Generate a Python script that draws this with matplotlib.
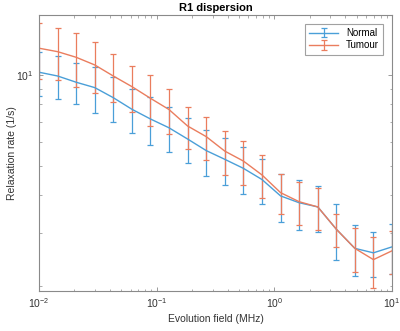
import numpy as np
import matplotlib
matplotlib.use('Agg')
import matplotlib.pyplot as plt
from matplotlib.ticker import LogLocator, NullFormatter

plt.rcParams['font.family'] = ['Liberation Sans', 'DejaVu Sans']

# evolution field (MHz)
field = [0.01, 0.0144, 0.0207, 0.0298, 0.0428, 0.0616, 0.0886, 0.127, 0.183, 0.264,
         0.379, 0.546, 0.785, 1.13, 1.62, 2.34, 3.36, 4.83, 6.95, 10.0]

# R1 (1/s) and errors
normal = [10.21, 9.92, 9.46, 9.08, 8.41, 7.70, 7.15, 6.69, 6.14, 5.62,
          5.26, 4.91, 4.51, 3.98, 3.78, 3.66, 3.09, 2.67, 2.58, 2.70]
normal_err = [1.71, 1.61, 1.47, 1.58, 1.44, 1.28, 1.29, 1.13, 1.04, 0.98,
              0.92, 0.86, 0.78, 0.71, 0.70, 0.63, 0.65, 0.51, 0.44, 0.51]
tumour = [12.26, 11.94, 11.44, 10.79, 9.92, 9.15, 8.37, 7.69, 6.78, 6.25,
          5.60, 5.19, 4.67, 4.08, 3.81, 3.66, 3.09, 2.67, 2.45, 2.62]
tumour_err = [2.55, 2.32, 2.33, 2.08, 1.81, 1.58, 1.61, 1.32, 1.07, 1.03,
              0.95, 0.86, 0.75, 0.61, 0.61, 0.58, 0.39, 0.44, 0.47, 0.43]

blue = '#4a9fd8'
orange = '#ea7d5e'
axcol = '#8a8a8a'

fig = plt.figure(figsize=(4.0, 3.31), dpi=100)
ax = fig.add_axes([0.0975, 0.121, 0.8825, 0.834])

ax.errorbar(field, normal, yerr=normal_err, color=blue, lw=1.0, elinewidth=0.9,
            capsize=2.2, capthick=0.9, label='Normal')
ax.errorbar(field, tumour, yerr=tumour_err, color=orange, lw=1.0, elinewidth=0.9,
            capsize=2.2, capthick=0.9, label='Tumour')

ax.set_xscale('log')
ax.set_yscale('log')
ax.set_xlim(0.01, 10)
ax.set_ylim(1.93, 15.8)

ax.xaxis.set_major_locator(LogLocator(base=10))
ax.yaxis.set_major_locator(LogLocator(base=10))
ax.yaxis.set_minor_locator(LogLocator(base=10, subs=np.arange(2, 10)))
ax.yaxis.set_minor_formatter(NullFormatter())

ax.tick_params(which='both', direction='in', top=True, right=True, color=axcol,
               labelsize=7.5, labelcolor='#333333', pad=4)
ax.tick_params(which='major', length=3, width=0.6)
ax.tick_params(which='minor', length=1.8, width=0.5)
for s in ax.spines.values():
    s.set_color(axcol)
    s.set_linewidth(0.8)

ax.set_title('R1 dispersion', fontsize=8, fontweight='bold', pad=3)
ax.set_xlabel('Evolution field (MHz)', fontsize=7.5, color='#333333', labelpad=3)
ax.set_ylabel('Relaxation rate (1/s)', fontsize=7.5, color='#333333')
ax.yaxis.set_label_coords(-0.062, 0.5)

leg = ax.legend(loc='upper right', fontsize=7, frameon=True, fancybox=False,
                edgecolor=axcol, borderpad=0.45, handlelength=3.0, labelspacing=0.25,
                borderaxespad=0.9)
leg.get_frame().set_linewidth(0.8)

fig.savefig('out.png', dpi=100)
